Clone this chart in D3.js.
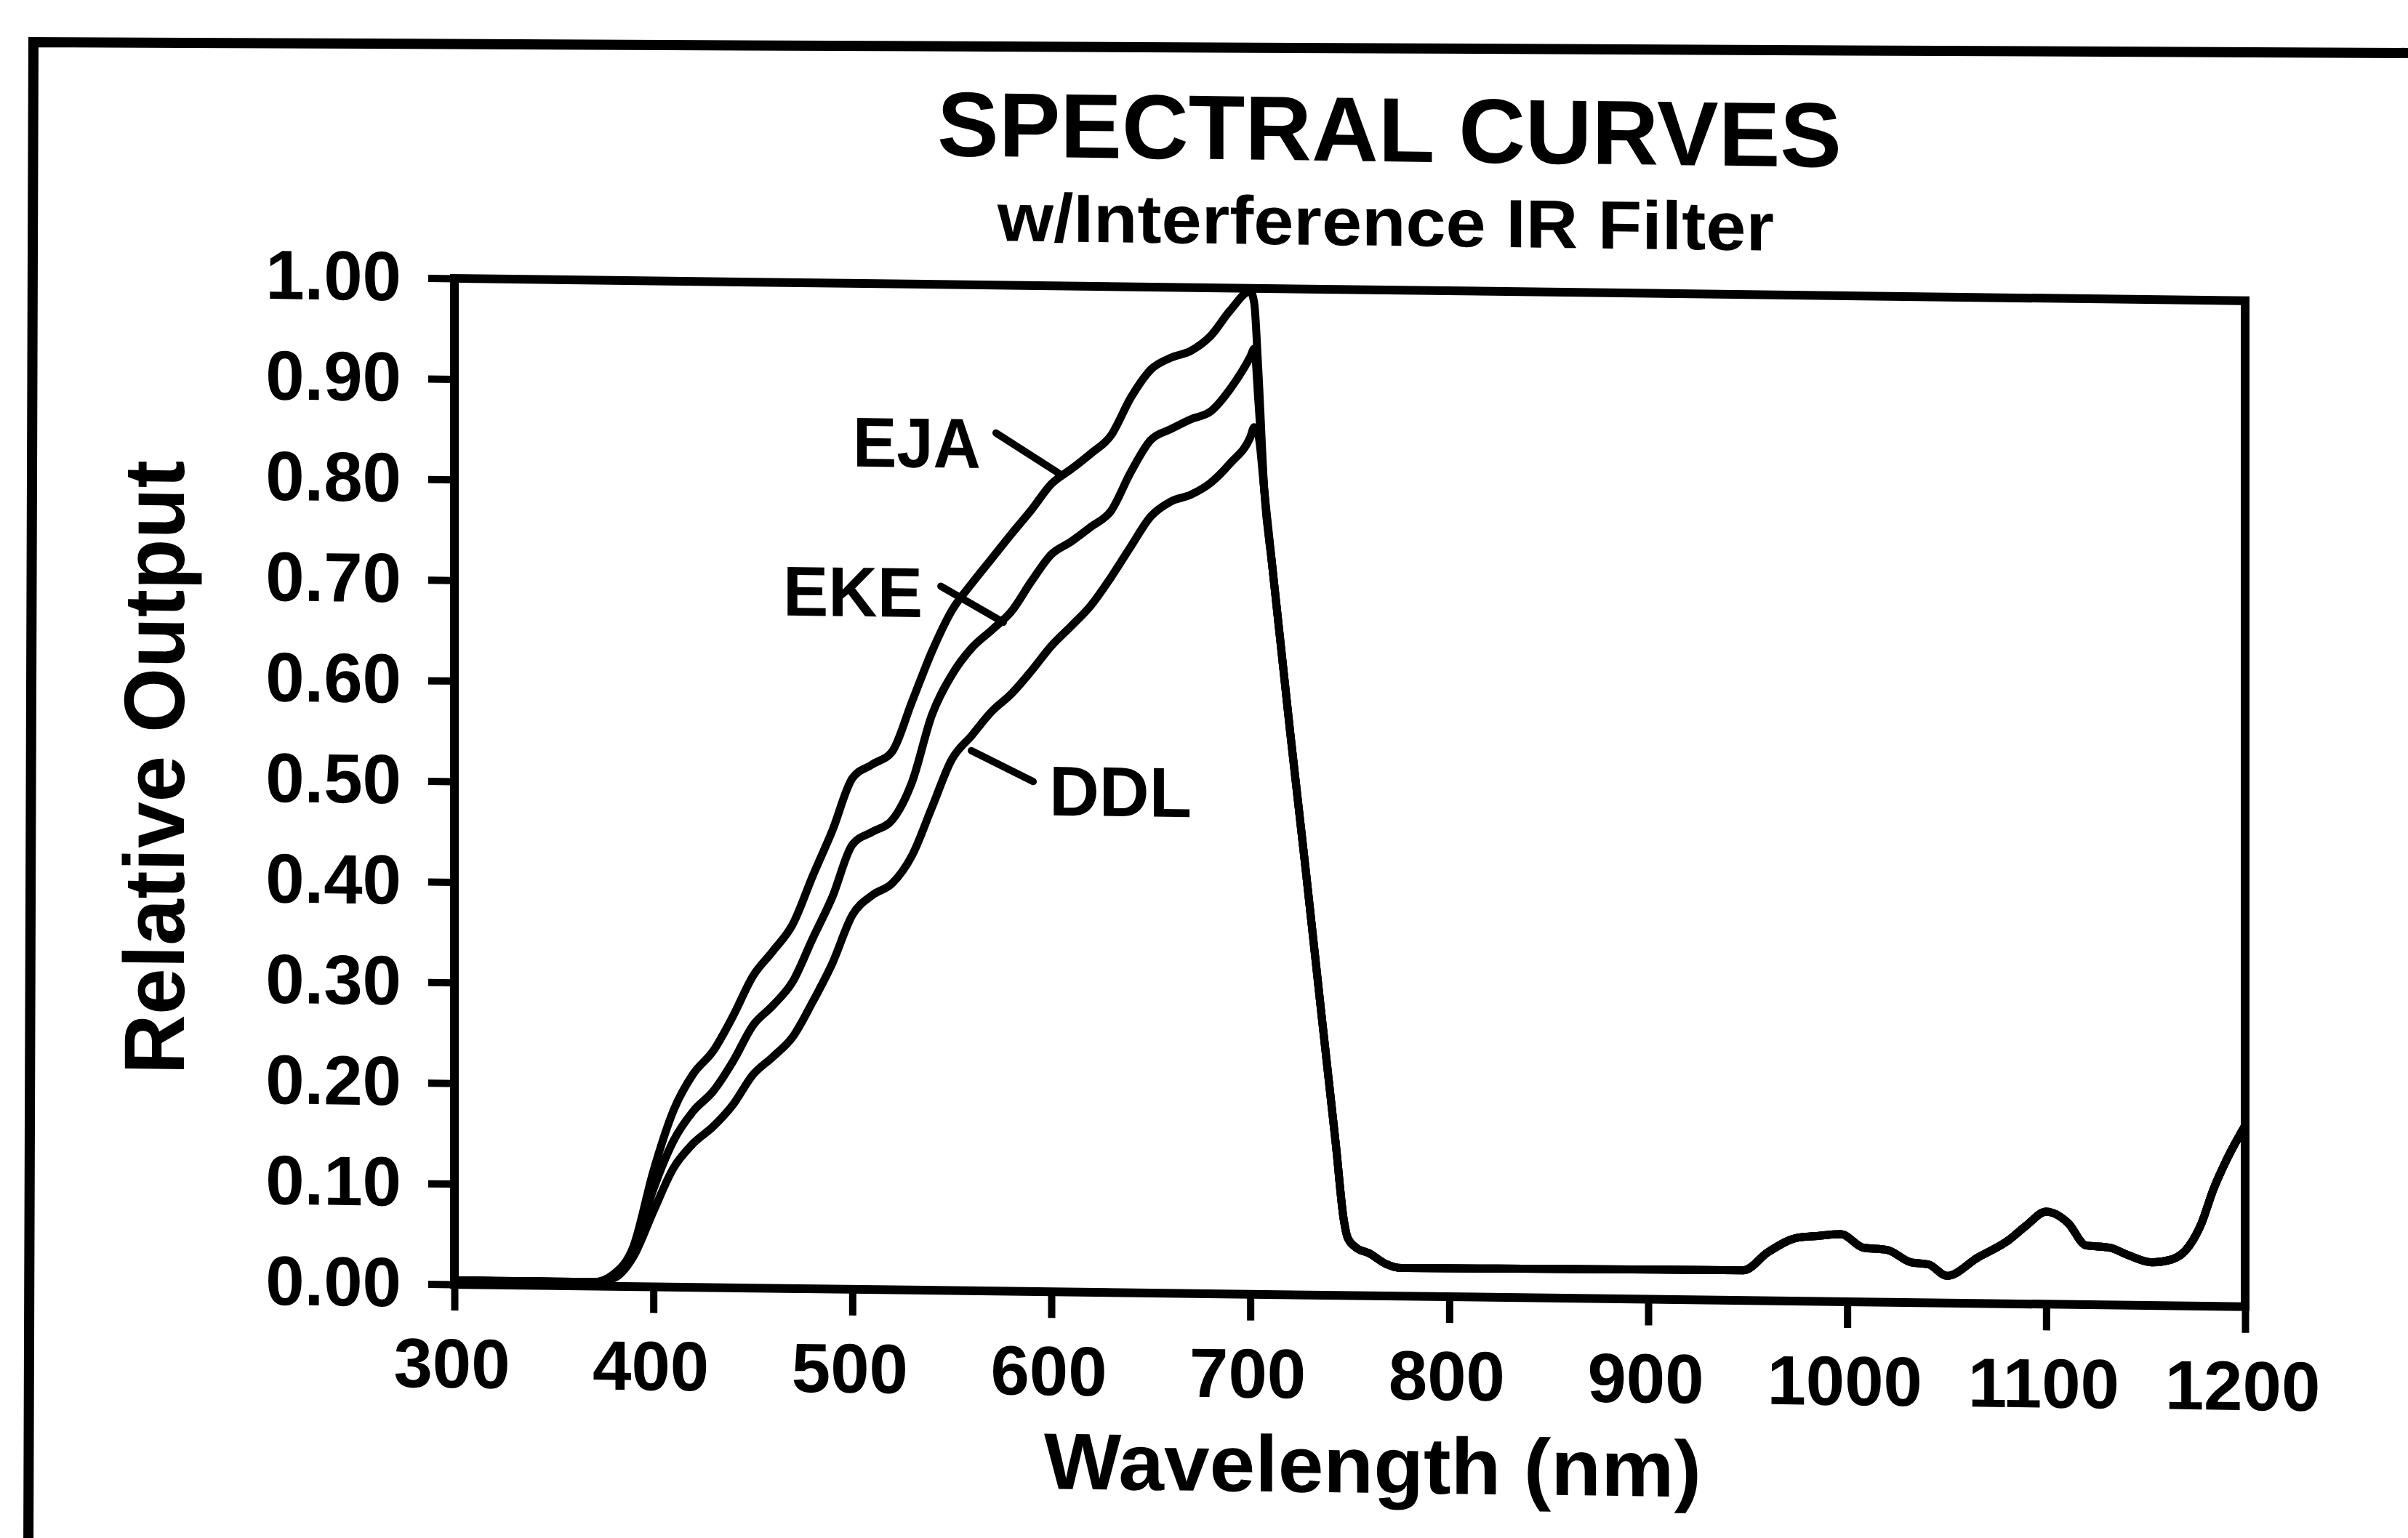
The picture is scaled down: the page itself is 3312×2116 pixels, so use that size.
<!DOCTYPE html>
<html>
<head>
<meta charset="utf-8">
<script src="https://cdn.jsdelivr.net/npm/d3@7"></script>
<style>
  html, body { margin: 0; padding: 0; background: #fff; }
  svg { display: block; }
  text { font-family: "Liberation Sans", Arial, Helvetica, sans-serif; font-weight: bold; fill: #000; }
</style>
</head>
<body>
<svg id="chart" width="3312" height="2116"></svg>
<script>
// ---------------- data ----------------
const titleText = "SPECTRAL CURVES";
const subtitleText = "w/Interference IR Filter";
const xAxisTitle = "Wavelength (nm)";
const yAxisTitle = "Relative Output";

const wavelengths = [300,310,320,330,340,350,360,370,380,390,400,410,420,430,440,450,460,470,480,490,
  500,510,520,530,540,550,560,570,580,590,600,610,620,630,640,650,660,670,680,690,700,702,704];

const ejaValues = [0.004,0.004,0.004,0.004,0.004,0.004,0.004,0.004,0.012,0.04,0.115,0.175,0.212,0.235,0.27,0.31,0.335,0.362,0.41,0.456,
  0.508,0.522,0.535,0.585,0.635,0.676,0.703,0.728,0.753,0.777,0.803,0.818,0.834,0.852,0.89,0.918,0.93,0.937,0.952,0.978,0.997,0.985,0.92];

const ekeValues = [0.004,0.004,0.004,0.004,0.004,0.004,0.004,0.004,0.01,0.035,0.097,0.145,0.175,0.195,0.225,0.261,0.281,0.305,0.348,0.39,
  0.442,0.455,0.467,0.505,0.572,0.612,0.639,0.657,0.676,0.706,0.733,0.746,0.761,0.777,0.816,0.848,0.859,0.869,0.877,0.9,0.932,0.94,0.89];

const ddlValues = [0.004,0.004,0.004,0.004,0.004,0.004,0.004,0.004,0.008,0.03,0.075,0.118,0.143,0.16,0.182,0.212,0.23,0.25,0.285,0.324,
  0.372,0.392,0.404,0.432,0.48,0.528,0.552,0.576,0.594,0.617,0.642,0.662,0.683,0.711,0.742,0.772,0.787,0.794,0.806,0.826,0.852,0.862,0.855];

// shared part after the IR filter cut-off (all three curves coincide)
const tailWavelengths = [707,711,720,728,736,743,747,749,753,760,768,776,850,948,960,975,985,997,1008,1020,1032,1041,1050,
  1066,1081,1090,1100,1111,1120,1132,1141,1153,1163,1172,1178,1184,1190,1200];
const tailValues = [0.80,0.725,0.56,0.42,0.275,0.15,0.075,0.057,0.048,0.042,0.032,0.028,0.029,0.030,0.048,0.063,0.065,0.067,0.054,0.052,0.040,0.038,0.027,
  0.046,0.063,0.078,0.092,0.081,0.059,0.057,0.050,0.043,0.046,0.060,0.082,0.116,0.143,0.180];

const seriesNames = ["EJA", "EKE", "DDL"];
// label anchors (wavelength, value) and leader lines
const labelWavelength = [500.2, 465.2, 598.9];
const labelValue = [0.818, 0.669, 0.4736];
const leaderFromWavelength = [572.2, 544.5, 559.8];
const leaderFromValue = [0.853, 0.700, 0.537];
const leaderToWavelength = [604.4, 575.9, 590.9];
const leaderToValue = [0.813, 0.665, 0.507];

const xTickValues = [300,400,500,600,700,800,900,1000,1100,1200];
const yTickValues = [0,0.1,0.2,0.3,0.4,0.5,0.6,0.7,0.8,0.9,1.0];

// ---------------- layout ----------------
const plotLeft = 625, plotRight = 3088, plotTop = 383, plotBottom = 1767;
const skew = 0.0125; // slight tilt of the scanned original

const svg = d3.select("#chart");
svg.append("rect").attr("width", 3312).attr("height", 2116).attr("fill", "#fff");

// outer frame of the scanned page (only left and top edges visible)
svg.append("path")
  .attr("d", d3.line()([[39, 2140], [46, 58], [3330, 73]]))
  .attr("fill", "none").attr("stroke", "#000").attr("stroke-width", 14);

const root = svg.append("g")
  .attr("transform", `matrix(1, ${skew}, 0, 1, 0, ${-skew * plotLeft})`);

const x = d3.scaleLinear().domain([300, 1200]).range([plotLeft, plotRight]);
const y = d3.scaleLinear().domain([0, 1]).range([plotBottom, plotTop]);

// titles
root.append("text").attr("x", 1911).attr("y", 206).attr("text-anchor", "middle")
  .attr("font-size", 126).attr("textLength", 1244).attr("lengthAdjust", "spacingAndGlyphs")
  .text(titleText);
root.append("text").attr("x", 1906).attr("y", 322).attr("text-anchor", "middle")
  .attr("font-size", 94).attr("textLength", 1068).attr("lengthAdjust", "spacingAndGlyphs")
  .text(subtitleText);

// axes
const yAxis = d3.axisLeft(y).tickValues(yTickValues).tickFormat(d3.format(".2f"))
  .tickSize(36).tickPadding(37);
const yG = root.append("g").attr("transform", `translate(${plotLeft},0)`).call(yAxis);
yG.select(".domain").remove();
yG.selectAll("line").attr("stroke", "#000").attr("stroke-width", 10);
yG.selectAll("text").attr("font-size", 96).attr("font-family", null).style("fill", "#000");

const xAxis = d3.axisBottom(x).tickValues(xTickValues).tickFormat(d3.format("d"))
  .tickSize(36).tickPadding(38);
const xG = root.append("g").attr("transform", `translate(0,${plotBottom})`).call(xAxis);
xG.select(".domain").remove();
xG.selectAll("line").attr("stroke", "#000").attr("stroke-width", 10);
xG.selectAll("text").attr("font-size", 96).attr("font-family", null).attr("dx", -4).style("fill", "#000");

// plot frame
root.append("rect")
  .attr("x", x(300)).attr("y", y(1)).attr("width", x(1200) - x(300)).attr("height", y(0) - y(1))
  .attr("fill", "none").attr("stroke", "#000").attr("stroke-width", 12);

// axis titles
root.append("text").attr("x", 1888).attr("y", 2038).attr("text-anchor", "middle")
  .attr("font-size", 110).attr("textLength", 904).attr("lengthAdjust", "spacingAndGlyphs")
  .text(xAxisTitle);
root.append("text").attr("transform", "translate(253,1061) rotate(-90)").attr("text-anchor", "middle")
  .attr("font-size", 118).attr("textLength", 845).attr("lengthAdjust", "spacingAndGlyphs")
  .text(yAxisTitle);

// curves
const line = d3.line().x(d => x(d[0])).y(d => y(d[1])).curve(d3.curveMonotoneX);
const tail = tailWavelengths.map((w, i) => [w, tailValues[i]]);
[ejaValues, ekeValues, ddlValues].forEach(vals => {
  const pts = wavelengths.map((w, i) => [w, vals[i]]).concat(tail);
  root.append("path").attr("d", line(pts))
    .attr("fill", "none").attr("stroke", "#000").attr("stroke-width", 11)
    .attr("stroke-linejoin", "round").attr("stroke-linecap", "round");
});

// series labels + leader lines
const labelWidths = [176, 192, 196];
seriesNames.forEach((name, i) => {
  root.append("line")
    .attr("x1", x(leaderFromWavelength[i])).attr("y1", y(leaderFromValue[i]))
    .attr("x2", x(leaderToWavelength[i])).attr("y2", y(leaderToValue[i]))
    .attr("stroke", "#000").attr("stroke-width", 10).attr("stroke-linecap", "round");
  root.append("text").attr("x", x(labelWavelength[i])).attr("y", y(labelValue[i]))
    .attr("font-size", 97).attr("textLength", labelWidths[i]).attr("lengthAdjust", "spacingAndGlyphs")
    .text(name);
});
</script>
</body>
</html>
